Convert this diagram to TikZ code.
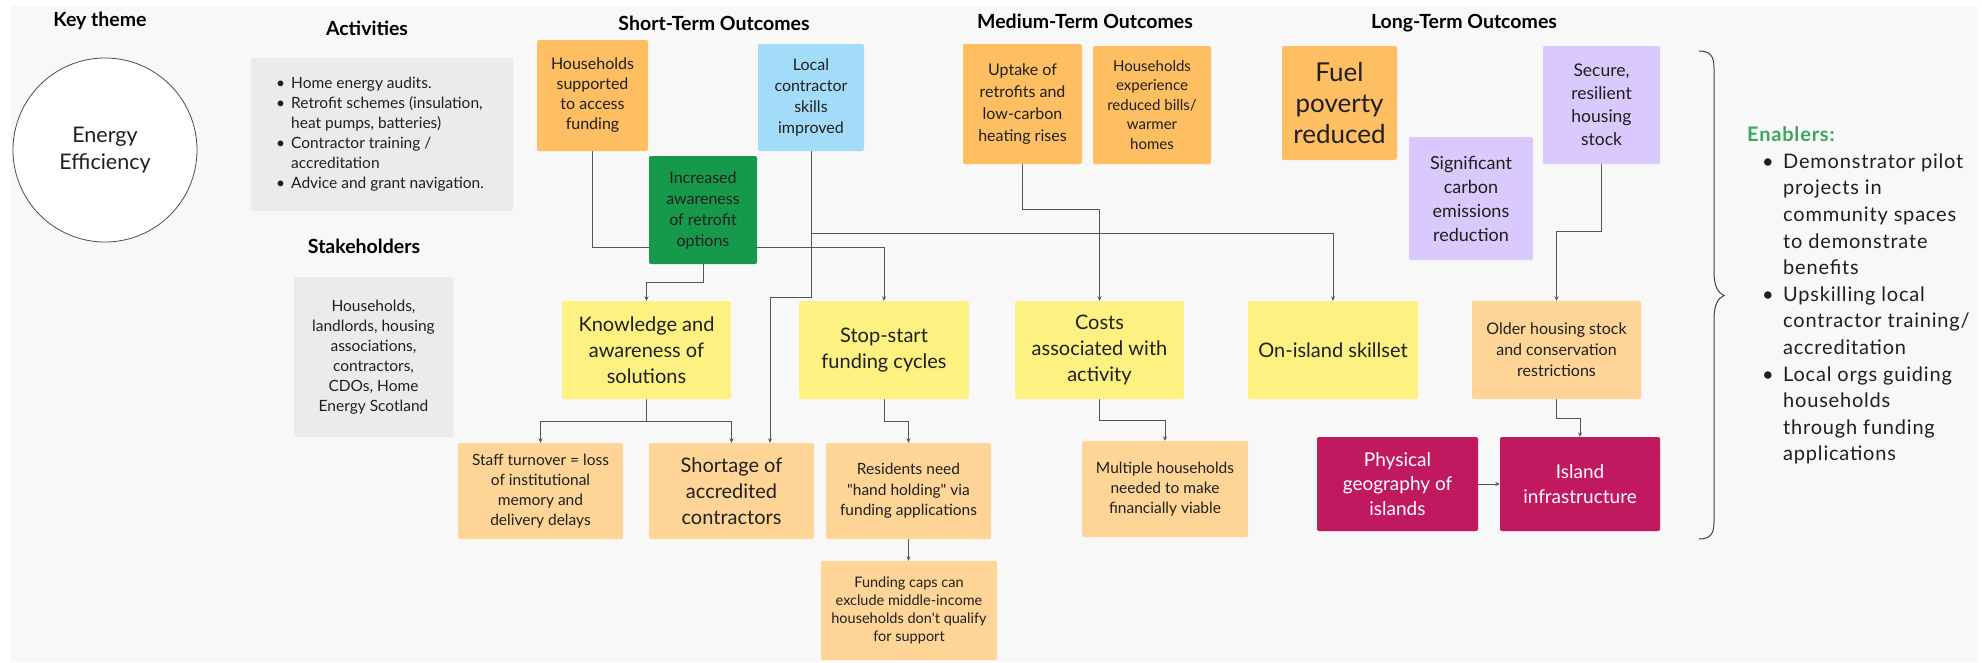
\documentclass[tikz,border=0pt]{standalone}
\usepackage{fontspec}
\setmainfont{Lato}[Ligatures=TeXOff]
\newfontfamily\spaced{Lato}[Ligatures=TeXOff,LetterSpace=4]
\usetikzlibrary{arrows.meta,calc}
\pgfdeclarelayer{bg}\pgfdeclarelayer{lines}
\pgfsetlayers{bg,lines,main}
\definecolor{bgc}{HTML}{F8F8F8}
\definecolor{grayb}{HTML}{EBEBEB}
\definecolor{orng}{HTML}{FDBF62}
\definecolor{peach}{HTML}{FFD597}
\definecolor{yell}{HTML}{FDF182}
\definecolor{blu}{HTML}{A3DCF8}
\definecolor{grn}{HTML}{17994B}
\definecolor{lav}{HTML}{D9C9FC}
\definecolor{mag}{HTML}{C0195F}
\definecolor{txt}{HTML}{1F1F1F}
\definecolor{ln}{HTML}{555555}
\definecolor{engrn}{HTML}{3FA55D}
\newcommand\myfs[2]{\fontsize{#1}{#2}\selectfont}
\tikzset{
  card/.style={rectangle, rounded corners=2pt, inner sep=0pt, align=center, text=txt},
  conn/.style={draw=ln, line width=0.9pt, -{Stealth[length=4.5pt,width=4pt]}},
  ttl/.style={font=\myfs{19.5}{23}\bfseries, text=black, inner sep=0pt},
}
\begin{document}
\begin{tikzpicture}[x=1pt,y=-1pt]
\useasboundingbox (0,0) rectangle (1982,662);
\begin{pgfonlayer}{bg}
\fill[white] (0,0) rectangle (1982,662);
\fill[bgc] (11,6) rectangle (1977,662);
\end{pgfonlayer}

% titles
\node[ttl] (t1) at (100,21) {Key theme};
\node[ttl] (t2) at (367,28) {Activities};
\node[ttl] (t3) at (364,246) {Stakeholders};
\node[ttl] (t4) at (714,23) {Short-Term Outcomes};
\node[ttl] (t5) at (1085,21) {Medium-Term Outcomes};
\node[ttl] (t6) at (1464,23) {Long-Term Outcomes};

% key theme
\node[circle, draw=black!70, fill=white, line width=0.8pt, minimum size=184, inner sep=0pt, align=center, text=txt, font=\myfs{21.5}{27}] (ee) at (105,150) {Energy\\Efficiency};

% activities
\node[card, fill=grayb, minimum width=262, minimum height=153] (act) at (382,134.5) {};
\node[anchor=west, align=left, inner sep=0pt, text=txt, font=\myfs{15.5}{20}] (actt) at (276,134)
 {\makebox[15pt][l]{\textbullet}Home energy audits.\\
  \makebox[15pt][l]{\textbullet}Retrofit schemes (insulation,\\
  \hspace*{15pt}heat pumps, batteries)\\
  \makebox[15pt][l]{\textbullet}Contractor training /\\
  \hspace*{15pt}accreditation\\
  \makebox[15pt][l]{\textbullet}Advice and grant navigation.};

% stakeholders
\node[card, fill=grayb, minimum width=159, minimum height=160, font=\myfs{15.5}{20}] (stk) at (373.5,357)
 {Households,\\landlords, housing\\associations,\\contractors,\\CDOs, Home\\Energy Scotland};

% short-term
\node[card, fill=orng, minimum width=111, minimum height=111, font=\myfs{16}{20}] (hs) at (592.5,95.5) {Households\\supported\\to access\\funding};
\node[card, fill=blu, minimum width=106, minimum height=107, font=\myfs{16}{21}] (lc) at (811,97.5) {Local\\contractor\\skills\\improved};
\node[card, fill=grn, minimum width=108, minimum height=108, font=\myfs{16}{21}] (ia) at (703,210) {Increased\\awareness\\of retrofit\\options};

% medium-term
\node[card, fill=orng, minimum width=119, minimum height=120, font=\myfs{16}{22}] (up) at (1022.5,104) {Uptake of\\retrofits and\\low-carbon\\heating rises};
\node[card, fill=orng, minimum width=118, minimum height=118, font=\myfs{15}{19.5}] (he) at (1152,105) {Households\\experience\\reduced bills/\\warmer\\homes};

% long-term
\node[card, fill=orng, minimum width=115, minimum height=114, font=\myfs{26}{31}] (fp) at (1339.5,103) {Fuel\\poverty\\reduced};
\node[card, fill=lav, minimum width=124, minimum height=123, font=\myfs{18}{24}] (sc) at (1471,198.5) {Significant\\carbon\\emissions\\reduction};
\node[card, fill=lav, minimum width=117, minimum height=118, font=\myfs{17.5}{23}] (sr) at (1601.5,105) {Secure,\\resilient\\housing\\stock};

% barriers row 1
\node[card, fill=yell, minimum width=169, minimum height=98, font=\myfs{20}{26}] (kn) at (646.5,350) {Knowledge and\\awareness of\\solutions};
\node[card, fill=yell, minimum width=170, minimum height=98, font=\myfs{20}{26}] (ss) at (884,350) {Stop-start\\funding cycles};
\node[card, fill=yell, minimum width=169, minimum height=98, font=\myfs{20}{26}] (co) at (1099.5,350) {Costs\\associated with\\activity};
\node[card, fill=yell, minimum width=170, minimum height=98, font=\myfs{20}{26}] (oi) at (1333,350) {On-island skillset};
\node[card, fill=peach, minimum width=169, minimum height=98, font=\myfs{16}{21}] (oh) at (1556.5,350) {Older housing stock\\and conservation\\restrictions};

% barriers row 2
\node[card, fill=peach, minimum width=165, minimum height=96, font=\myfs{15.5}{20}] (st) at (540.5,491) {Staff turnover = loss\\of institutional\\memory and\\delivery delays};
\node[card, fill=peach, minimum width=165, minimum height=96, font=\myfs{20}{26}] (sh) at (731.5,491) {Shortage of\\accredited\\contractors};
\node[card, fill=peach, minimum width=165, minimum height=96, font=\myfs{15.5}{20.5}] (rn) at (908.5,491) {Residents need\\"hand holding" via\\funding applications};
\node[card, fill=peach, minimum width=176, minimum height=99, font=\myfs{14.5}{18}] (fc) at (909,610.5) {Funding caps can\\exclude middle-income\\households don't qualify\\for support};
\node[card, fill=peach, minimum width=166, minimum height=96, font=\myfs{15.5}{20}] (mh) at (1165,489) {Multiple households\\needed to make\\financially viable};
\node[card, fill=mag, text=white, minimum width=161, minimum height=94, font=\myfs{19}{24.5}] (pg) at (1397.5,484) {Physical\\geography of\\islands};
\node[card, fill=mag, text=white, minimum width=160, minimum height=94, font=\myfs{19}{24.5}] (ii) at (1580,484) {Island\\infrastructure};

% connectors
\begin{pgfonlayer}{lines}
\draw[conn] (hs.south) -- ++(0,96) -| (ss.north);
\draw[conn] (ia.south) -- ++(0,18) -| (kn.north);
\draw[conn] (lc.south) -- ++(0,146) -| ([xshift=38.5pt]sh.north);
\draw[conn] ($(lc.south)+(0,82)$) -| (oi.north);
\draw[conn] (up.south) -- ++(0,45) -| (co.north);
\draw[conn] (kn.south) -- ++(0,22) -| (st.north);
\draw[conn] (kn.south) -- ++(0,22) -| (sh.north);
\draw[conn] (ss.south) -- ++(0,22) -| (rn.north);
\draw[conn] (rn.south) -- (rn.south |- fc.north);
\draw[conn] (co.south) -- ++(0,21) -| (mh.north);
\draw[conn] (sr.south) -- ++(0,67) -| (oh.north);
\draw[conn] (oh.south) -- ++(0,19) -| (ii.north);
\draw[conn] (pg.east) -- (ii.west);
\end{pgfonlayer}

% brace
\draw[line width=1pt, draw=black!75] (1699,51) .. controls (1710,51) and (1714,56) .. (1714,68) -- (1714,272) .. controls (1714,286) and (1718,293) .. (1724,295.5) .. controls (1718,298) and (1714,305) .. (1714,319) -- (1714,522) .. controls (1714,534) and (1710,539) .. (1699,539);

% enablers
\node[anchor=west, align=left, inner sep=0pt, text=txt, font=\spaced\myfs{20}{26.6}] (en) at (1747,295.5)
 {\textcolor{engrn}{\bfseries Enablers:}\\
  \hspace*{15pt}\makebox[21pt][l]{\textbullet}Demonstrator pilot\\
  \hspace*{36pt}projects in\\
  \hspace*{36pt}community spaces\\
  \hspace*{36pt}to demonstrate\\
  \hspace*{36pt}benefits\\
  \hspace*{15pt}\makebox[21pt][l]{\textbullet}Upskilling local\\
  \hspace*{36pt}contractor training/\\
  \hspace*{36pt}accreditation\\
  \hspace*{15pt}\makebox[21pt][l]{\textbullet}Local orgs guiding\\
  \hspace*{36pt}households\\
  \hspace*{36pt}through funding\\
  \hspace*{36pt}applications};
\end{tikzpicture}
\end{document}
